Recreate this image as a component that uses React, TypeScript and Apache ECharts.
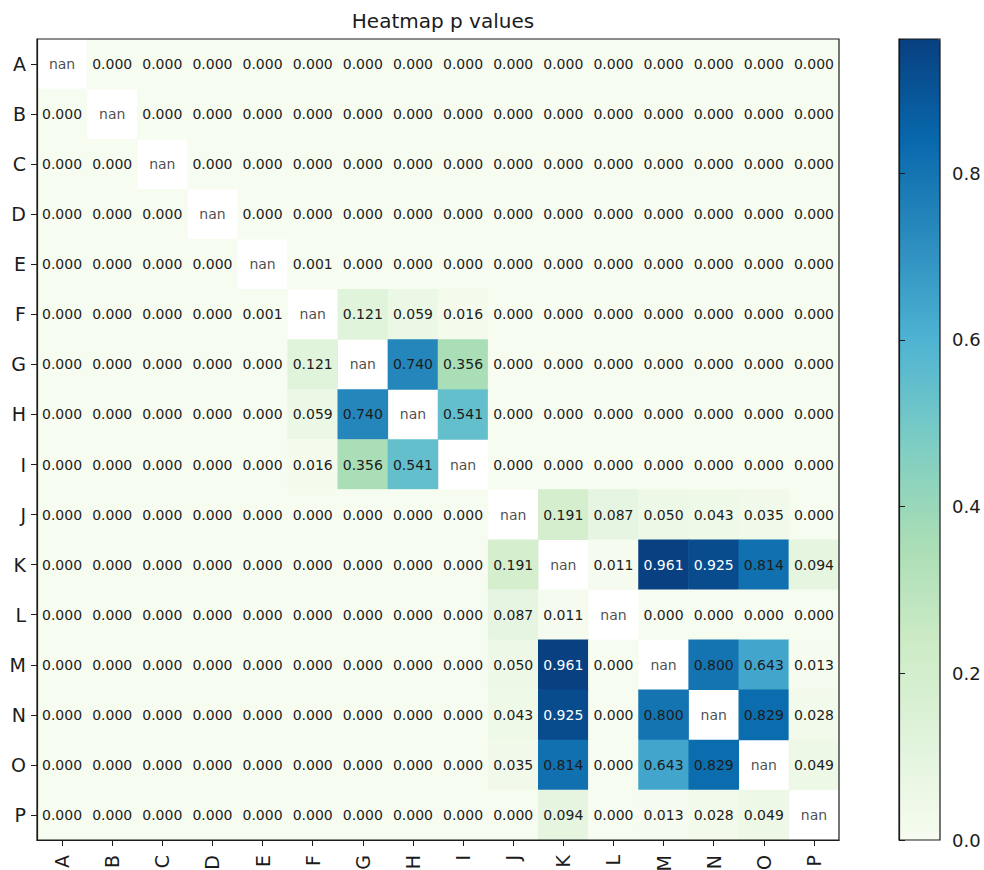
import React, { useEffect, useRef } from "react";
import * as echarts from "echarts";

// Row/column labels
const categories = ["A", "B", "C", "D", "E", "F", "G", "H", "I", "J", "K", "L", "M", "N", "O", "P"];

// Pairwise p values, row by row (null = diagonal, shown as "nan")
const pValues: (number | null)[][] = [
  [null, 0, 0, 0, 0, 0, 0, 0, 0, 0, 0, 0, 0, 0, 0, 0],
  [0, null, 0, 0, 0, 0, 0, 0, 0, 0, 0, 0, 0, 0, 0, 0],
  [0, 0, null, 0, 0, 0, 0, 0, 0, 0, 0, 0, 0, 0, 0, 0],
  [0, 0, 0, null, 0, 0, 0, 0, 0, 0, 0, 0, 0, 0, 0, 0],
  [0, 0, 0, 0, null, 0.001, 0, 0, 0, 0, 0, 0, 0, 0, 0, 0],
  [0, 0, 0, 0, 0.001, null, 0.121, 0.059, 0.016, 0, 0, 0, 0, 0, 0, 0],
  [0, 0, 0, 0, 0, 0.121, null, 0.74, 0.356, 0, 0, 0, 0, 0, 0, 0],
  [0, 0, 0, 0, 0, 0.059, 0.74, null, 0.541, 0, 0, 0, 0, 0, 0, 0],
  [0, 0, 0, 0, 0, 0.016, 0.356, 0.541, null, 0, 0, 0, 0, 0, 0, 0],
  [0, 0, 0, 0, 0, 0, 0, 0, 0, null, 0.191, 0.087, 0.05, 0.043, 0.035, 0],
  [0, 0, 0, 0, 0, 0, 0, 0, 0, 0.191, null, 0.011, 0.961, 0.925, 0.814, 0.094],
  [0, 0, 0, 0, 0, 0, 0, 0, 0, 0.087, 0.011, null, 0, 0, 0, 0],
  [0, 0, 0, 0, 0, 0, 0, 0, 0, 0.05, 0.961, 0, null, 0.8, 0.643, 0.013],
  [0, 0, 0, 0, 0, 0, 0, 0, 0, 0.043, 0.925, 0, 0.8, null, 0.829, 0.028],
  [0, 0, 0, 0, 0, 0, 0, 0, 0, 0.035, 0.814, 0, 0.643, 0.829, null, 0.049],
  [0, 0, 0, 0, 0, 0, 0, 0, 0, 0, 0.094, 0, 0.013, 0.028, 0.049, null],
];

// Colour bar tick values
const colorbarTicks = [0.0, 0.2, 0.4, 0.6, 0.8];

// GnBu colour ramp
const gnBu = ["#f7fcf0", "#e0f3db", "#ccebc5", "#a8ddb5", "#7bccc4", "#4eb3d3", "#2b8cbe", "#0868ac", "#084081"];

const FONT = "DejaVu Sans";
const INK = "#1c1c1c";

export default function App() {
  const ref = useRef<HTMLDivElement>(null);

  useEffect(() => {
    if (!ref.current) return;
    const chart = echarts.init(ref.current, null, { renderer: "svg" });

    const cells: any[] = [];
    const diag: any[] = [];
    let vmax = 0;
    pValues.forEach((row, y) =>
      row.forEach((v, x) => {
        if (v === null) {
          diag.push([x, y]);
        } else {
          vmax = Math.max(vmax, v);
        }
      })
    );
    pValues.forEach((row, y) =>
      row.forEach((v, x) => {
        if (v !== null) {
          cells.push({
            value: [x, y, v],
            label: { color: v / vmax > 0.9 ? "#ffffff" : INK },
          });
        }
      })
    );

    const plot = { left: 37, top: 39, width: 802, height: 801 };
    const bar = { left: 899, top: 39, width: 41, height: 801 };

    chart.setOption({
      animation: false,
      backgroundColor: "#ffffff",
      textStyle: { fontFamily: FONT },
      title: {
        text: "Heatmap p values",
        left: plot.left + plot.width / 2,
        top: 6,
        textAlign: "center",
        textStyle: { fontFamily: FONT, fontSize: 20, fontWeight: "normal", color: INK },
      },
      grid: [
        { ...plot, containLabel: false, outerBoundsMode: "none" },
        { ...bar, containLabel: false, outerBoundsMode: "none" },
      ],
      xAxis: [
        {
          type: "category",
          gridIndex: 0,
          data: categories,
          position: "bottom",
          z: 10,
          axisLine: { show: true, lineStyle: { color: INK, width: 1.2 } },
          axisTick: { show: true, alignWithLabel: true, length: 6, lineStyle: { color: INK } },
          axisLabel: { rotate: 90, margin: 15, fontSize: 19, color: INK, fontFamily: FONT },
          splitLine: { show: false },
        },
        { type: "value", gridIndex: 1, show: false, min: 0, max: 1 },
      ],
      yAxis: [
        {
          type: "category",
          gridIndex: 0,
          data: categories,
          inverse: true,
          z: 10,
          axisLine: { show: true, lineStyle: { color: INK, width: 1.2 } },
          axisTick: { show: true, alignWithLabel: true, length: 6, lineStyle: { color: INK } },
          axisLabel: { margin: 11, fontSize: 19, color: INK, fontFamily: FONT },
          splitLine: { show: false },
        },
        {
          type: "value",
          gridIndex: 1,
          position: "right",
          min: 0,
          max: vmax,
          interval: colorbarTicks[1] - colorbarTicks[0],
          z: 10,
          axisLine: { show: true, lineStyle: { color: INK, width: 1.2 } },
          axisTick: { show: true, length: 6, lineStyle: { color: INK } },
          axisLabel: {
            margin: 12,
            fontSize: 18,
            color: INK,
            fontFamily: FONT,
            formatter: (v: number) => (colorbarTicks.some((t) => Math.abs(t - v) < 1e-9) ? v.toFixed(1) : ""),
          },
          splitLine: { show: false },
        },
      ],
      visualMap: {
        type: "continuous",
        seriesIndex: 0,
        min: 0,
        max: vmax,
        left: bar.left,
        top: bar.top,
        itemWidth: bar.width,
        itemHeight: bar.height,
        padding: 0,
        calculable: false,
        realtime: false,
        text: ["", ""],
        showLabel: false,
        hoverLink: false,
        inRange: { color: gnBu },
      },
      graphic: [
        {
          type: "rect",
          z: 100,
          silent: true,
          shape: { x: plot.left, y: plot.top, width: plot.width, height: plot.height },
          style: { fill: "none", stroke: INK, lineWidth: 1.2 },
        },
        {
          type: "rect",
          z: 100,
          silent: true,
          shape: { x: bar.left, y: bar.top, width: bar.width, height: bar.height },
          style: { fill: "none", stroke: INK, lineWidth: 1.2 },
        },
      ],
      series: [
        {
          type: "heatmap",
          xAxisIndex: 0,
          yAxisIndex: 0,
          data: cells,
          label: {
            show: true,
            fontSize: 14,
            fontFamily: FONT,
            formatter: (p: any) => (p.value[2] as number).toFixed(3),
          },
          itemStyle: { borderWidth: 0 },
          emphasis: { disabled: true },
        },
        {
          type: "scatter",
          xAxisIndex: 0,
          yAxisIndex: 0,
          data: diag,
          symbol: "rect",
          symbolSize: 1,
          itemStyle: { color: "#ffffff" },
          label: {
            show: true,
            position: "inside",
            fontSize: 14,
            fontFamily: FONT,
            color: INK,
            formatter: () => "nan",
          },
          emphasis: { disabled: true },
        },
      ],
    });

    return () => chart.dispose();
  }, []);

  return <div ref={ref} style={{ position: "fixed", left: 0, top: 0, width: 984, height: 870 }} />;
}
